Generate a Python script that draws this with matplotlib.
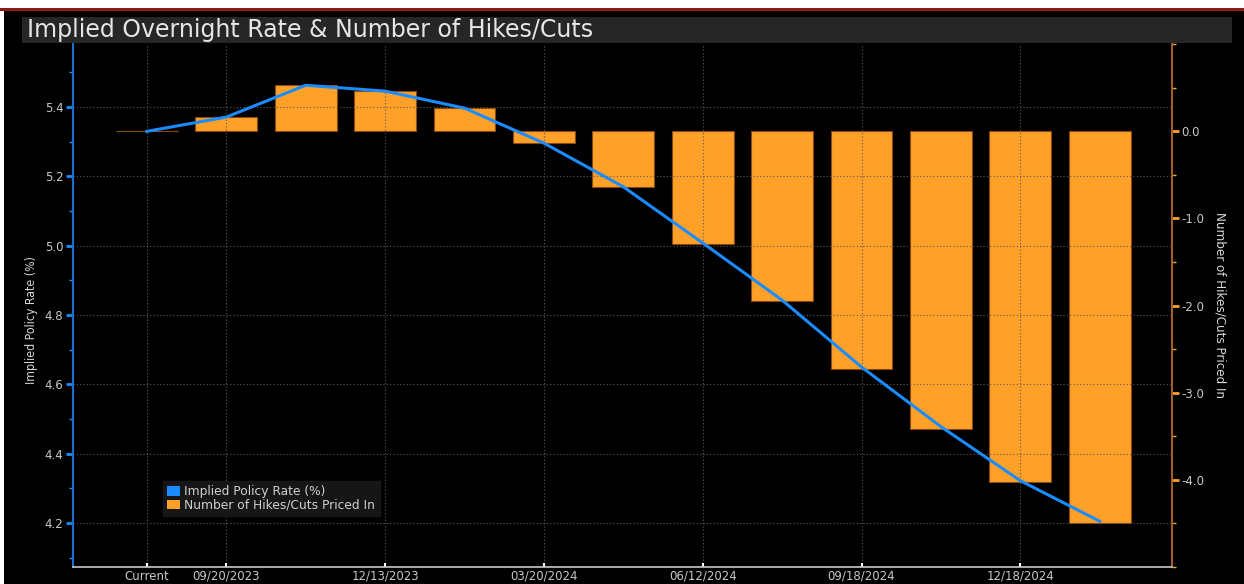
import matplotlib
matplotlib.use("Agg")
import matplotlib.pyplot as plt
from matplotlib.patches import Rectangle, Patch
from matplotlib.ticker import FixedLocator, FormatStrFormatter
import numpy as np

categories = ["Current", "09/20/2023", "11/01/2023", "12/13/2023", "01/31/2024",
              "03/20/2024", "05/01/2024", "06/12/2024", "07/31/2024", "09/18/2024",
              "11/07/2024", "12/18/2024", "01/29/2025"]
implied_rate = [5.330, 5.371, 5.463, 5.446, 5.397, 5.296, 5.170, 5.008, 4.843,
                4.650, 4.478, 4.322, 4.205]
hikes_cuts = [0.0, 0.16, 0.53, 0.46, 0.27, -0.14, -0.64, -1.29, -1.95,
              -2.73, -3.42, -4.03, -4.50]
shown_labels = ["Current", "09/20/2023", "12/13/2023", "03/20/2024",
                "06/12/2024", "09/18/2024", "12/18/2024"]

W, H = 1244, 584
fig = plt.figure(figsize=(W / 100, H / 100), dpi=100)
fig.patch.set_facecolor("white")

def fx(px):
    return px / W

def fy(py):
    return 1 - py / H

# black panel, red top line, title band
fig.patches.append(Rectangle((fx(4), 0), 1 - fx(4), fy(11), transform=fig.transFigure,
                             facecolor="black", edgecolor="none", zorder=0))
fig.patches.append(Rectangle((0, fy(11)), 1, 3 / H, transform=fig.transFigure,
                             facecolor="#8b1a1a", edgecolor="none", zorder=0))
fig.patches.append(Rectangle((fx(22), fy(43)), fx(1232 - 22), 26 / H, transform=fig.transFigure,
                             facecolor="#262626", edgecolor="none", zorder=0))
fig.text(fx(27), fy(30.5), "Implied Overnight Rate & Number of Hikes/Cuts",
         color="#e6e6e6", fontsize=17, va="center", ha="left", family="DejaVu Sans")

left, right, top, bottom = 73, 1172, 44, 567
ax = fig.add_axes([fx(left), fy(bottom), fx(right - left), (bottom - top) / H])
ax.set_facecolor("none")
ax2 = ax.twinx()
ax.set_zorder(2)
ax2.set_zorder(1)
ax2.patch.set_visible(False)

x = np.arange(len(categories))
bar_color = "#ffa028"
ax2.bar(x, hikes_cuts, width=0.78, color=bar_color, edgecolor="#8a4a10", linewidth=0.8, zorder=2)
ax.plot(x, implied_rate, color="#1a8cff", linewidth=2.2, zorder=5)

ax.set_xlim(-0.93, 12.91)
ax.set_ylim(4.073, 5.582)
ax2.set_ylim(-5.0, 1.0)

tick_col = "#c8c8c8"
# left axis
ax.yaxis.set_major_locator(FixedLocator([4.2, 4.4, 4.6, 4.8, 5.0, 5.2, 5.4]))
ax.yaxis.set_minor_locator(FixedLocator([4.1, 4.3, 4.5, 4.7, 4.9, 5.1, 5.3, 5.5]))
ax.yaxis.set_major_formatter(FormatStrFormatter("%.1f"))
ax.tick_params(axis="y", which="major", colors="#1a8cff", labelcolor=tick_col,
               length=5, width=2, labelsize=8.5, pad=2)
ax.tick_params(axis="y", which="minor", colors="#1a8cff", length=3, width=1)
ax.grid(axis="y", which="major", color="#5a5a5a", linestyle=(0, (1, 2)), linewidth=0.8)

# x axis
pos = [categories.index(c) for c in shown_labels]
ax.set_xticks(pos)
ax.set_xticklabels(shown_labels)
ax.tick_params(axis="x", colors="white", labelcolor=tick_col, length=3, width=1.5,
               direction="in", labelsize=8.5, pad=2)
ax.grid(axis="x", color="#5a5a5a", linestyle=(0, (1, 2)), linewidth=0.8)
ax.set_axisbelow(True)

# right axis
ax2.yaxis.set_major_locator(FixedLocator([0.0, -1.0, -2.0, -3.0, -4.0]))
ax2.yaxis.set_minor_locator(FixedLocator([1.0, 0.5, -0.5, -1.5, -2.5, -3.5, -4.5, -5.0]))
ax2.yaxis.set_major_formatter(FormatStrFormatter("%.1f"))
ax2.tick_params(axis="y", which="major", colors="#ffa028", labelcolor=tick_col,
                length=5, width=2, labelsize=8.5, pad=2)
ax2.tick_params(axis="y", which="minor", colors="#ffa028", length=3, width=1)

for a in (ax, ax2):
    a.spines["top"].set_visible(False)
ax.spines["left"].set_color("#1a6fd0")
ax.spines["left"].set_linewidth(1.5)
ax.spines["right"].set_visible(False)
ax.spines["bottom"].set_color("#c8c8c8")
ax.spines["bottom"].set_linewidth(1.2)
ax2.spines["left"].set_visible(False)
ax2.spines["bottom"].set_visible(False)
ax2.spines["right"].set_color("#a0602a")
ax2.spines["right"].set_linewidth(1.5)

ax.set_ylabel("Implied Policy Rate (%)", color="#d8d8d8", fontsize=8.8,
              fontstretch="condensed")
ax.yaxis.set_label_coords((38 - left) / (right - left), (bottom - 320) / (bottom - top))
ax2.set_ylabel("Number of Hikes/Cuts Priced In", color="#d8d8d8", fontsize=9.5,
               rotation=270, labelpad=16, fontstretch="condensed")

handles = [Patch(facecolor="#1a8cff", edgecolor="none", label="Implied Policy Rate (%)"),
           Patch(facecolor=bar_color, edgecolor="none", label="Number of Hikes/Cuts Priced In")]
leg = ax.legend(handles=handles, loc="lower left",
                bbox_to_anchor=((163 - left) / (right - left), (bottom - 516) / (bottom - top)),
                frameon=True, fontsize=8.8, handlelength=1.0, handleheight=0.85,
                handletextpad=0.4, labelspacing=0.05, borderpad=0.35, borderaxespad=0,
                fancybox=False)
leg.get_frame().set_facecolor("#161616")
leg.get_frame().set_edgecolor("#161616")
leg.get_frame().set_alpha(1)
for t in leg.get_texts():
    t.set_color("#d0d0d0")

fig.savefig("out.png", dpi=100, facecolor=fig.get_facecolor())
